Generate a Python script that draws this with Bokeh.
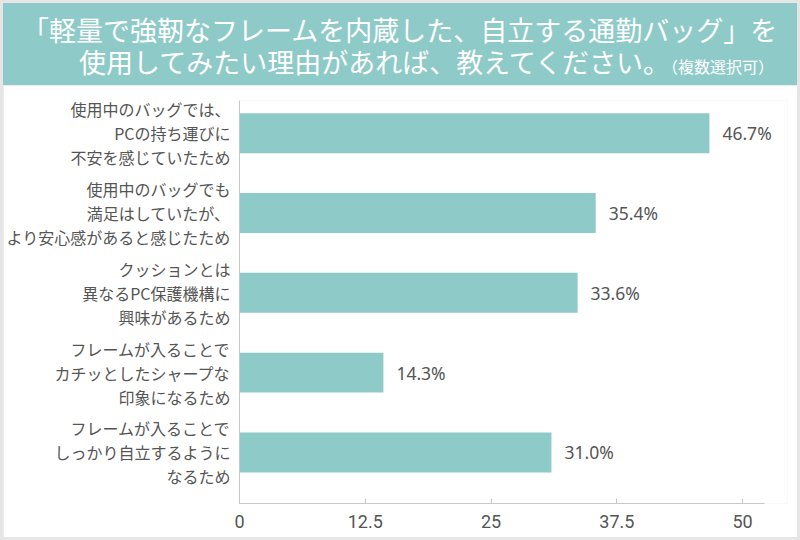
from bokeh.plotting import figure
from bokeh.models import Range1d, FixedTicker, ColumnDataSource, LabelSet, Div
from bokeh.layouts import column
from bokeh.embed import file_html
from bokeh.resources import INLINE
from bokeh.core.properties import value

# ---- data ----
title_line1 = "「軽量で強靭なフレームを内蔵した、自立する通勤バッグ」を"
title_line2 = "使用してみたい理由があれば、教えてください。"
title_note = "（複数選択可）"

categories = [
    "使用中のバッグでは、\nPCの持ち運びに\n不安を感じていたため",
    "使用中のバッグでも\n満足はしていたが、\nより安心感があると感じたため",
    "クッションとは\n異なるPC保護機構に\n興味があるため",
    "フレームが入ることで\nカチッとしたシャープな\n印象になるため",
    "フレームが入ることで\nしっかり自立するように\nなるため",
]
values = [46.7, 35.4, 33.6, 14.3, 31.0]
tick_values = [0, 12.5, 25, 37.5, 50]
tick_labels = ["0", "12.5", "25", "37.5", "50"]

# ---- styles ----
TEAL = "#8ecac8"
TEXT = "#555555"
AXIS = "#c8c8c8"
FRAME = "#e6e6e6"
JP = "Noto Sans CJK JP"
INNER_W = 794
BANNER_H = 82
CHART_H = 452

# ---- banner (HTML) ----
banner_html = (
    f'<div style="position:relative;width:{INNER_W}px;height:{BANNER_H}px;background:{TEAL};'
    f'overflow:hidden;color:white;font-family:\'{JP}\';">'
    f'<div style="position:absolute;left:19px;top:13px;font-size:27px;line-height:27px;white-space:nowrap;">'
    f'{title_line1}</div>'
    f'<div style="position:absolute;left:76px;top:45px;font-size:27px;line-height:27px;white-space:nowrap;">'
    f'{title_line2}<span style="font-size:16px;">{title_note}</span></div>'
    f'</div>'
)
banner = Div(text=banner_html, width=INNER_W, height=BANNER_H, margin=(3, 3, 0, 3))

# ---- chart ----
ys = list(range(len(categories)))
p = figure(width=INNER_W, height=CHART_H, x_range=Range1d(0, 54.46), y_range=Range1d(4.64, -0.41),
           output_backend="svg", toolbar_location=None,
           min_border_left=234, min_border_right=10, min_border_top=15, min_border_bottom=34,
           margin=(0, 3, 3, 3))
p.grid.visible = False
p.outline_line_color = None
p.background_fill_color = "white"
p.border_fill_color = "white"

p.hbar(y=ys, left=0, right=values, height=0.5, fill_color=TEAL, line_color=None)

src = ColumnDataSource(dict(x=values, y=ys, t=[f"{v:.1f}%" for v in values]))
p.add_layout(LabelSet(x="x", y="y", text="t", source=src, x_offset=13,
                      text_baseline="middle", text_align="left",
                      text_font=value("Noto Sans"), text_font_size="17.5px", text_color=TEXT))

xa = p.xaxis[0]
xa.ticker = FixedTicker(ticks=tick_values)
xa.bounds = (0, 52.18)
xa.major_label_overrides = {t: l for t, l in zip(tick_values, tick_labels)}
xa.axis_line_color = AXIS
xa.major_tick_line_color = AXIS
xa.major_tick_in = 5
xa.major_tick_out = 0
xa.minor_tick_line_color = None
xa.major_label_standoff = 11
xa.major_label_text_font = "Roboto"
xa.major_label_text_font_size = "18px"
xa.major_label_text_color = TEXT

ya = p.yaxis[0]
ya.ticker = FixedTicker(ticks=ys)
ya.major_label_overrides = {i: c for i, c in zip(ys, categories)}
ya.axis_line_color = AXIS
ya.major_tick_line_color = None
ya.major_tick_in = 0
ya.major_tick_out = 0
ya.minor_tick_line_color = None
ya.major_label_standoff = 9
ya.major_label_text_font = JP
ya.major_label_text_font_size = "16px"
ya.major_label_text_line_height = 1.0
ya.major_label_text_color = TEXT

layout = column(banner, p, spacing=0, styles={"background-color": FRAME})
open("out.html", "w").write(file_html(layout, INLINE))
